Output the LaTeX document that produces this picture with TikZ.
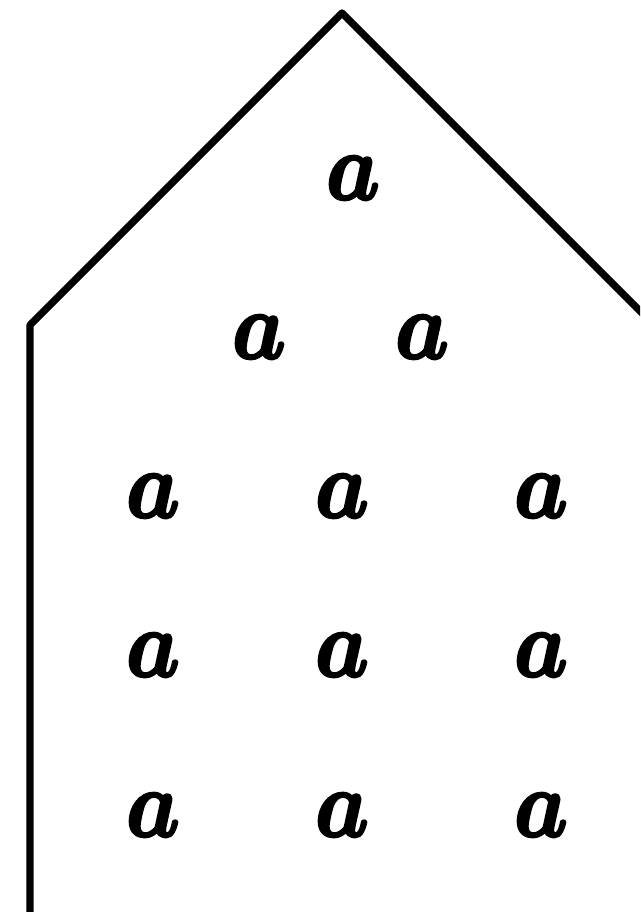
\documentclass[tikz,border=0pt]{standalone}
\usepackage{amsmath,bm}
\newcommand{\heavya}{\special{pdf:literal 1 j 0.28 w 2 Tr}$\bm{a}$\special{pdf:literal 0 Tr}}
\newcommand{\biga}{\scalebox{6.4}[7.2]{\heavya}}
\begin{document}
\begin{tikzpicture}[x=0.75pt,y=-0.75pt,
  letter/.style={inner sep=0pt},
  outline/.style={line width=5.5pt,line join=round}]
\useasboundingbox (0,0) rectangle (640,912);
\clip (0,0) rectangle (640,912);
\coordinate (bl) at (30,930);
\coordinate (lc) at (30,325);
\coordinate (apex) at (342,13);
\coordinate (rc) at (660,331);
\draw[outline] (bl) -- (lc) -- (apex) -- (rc);
\node[letter] (r1c2) at (353,178) {\biga};
\node[letter] (r2c1) at (259,337) {\biga};
\node[letter] (r2c2) at (422,337) {\biga};
\node[letter] (r3c1) at (153,496) {\biga};
\node[letter] (r3c2) at (342,496) {\biga};
\node[letter] (r3c3) at (541,496) {\biga};
\node[letter] (r4c1) at (153,655) {\biga};
\node[letter] (r4c2) at (342,655) {\biga};
\node[letter] (r4c3) at (541,655) {\biga};
\node[letter] (r5c1) at (153,815) {\biga};
\node[letter] (r5c2) at (342,815) {\biga};
\node[letter] (r5c3) at (541,815) {\biga};
\end{tikzpicture}
\end{document}
